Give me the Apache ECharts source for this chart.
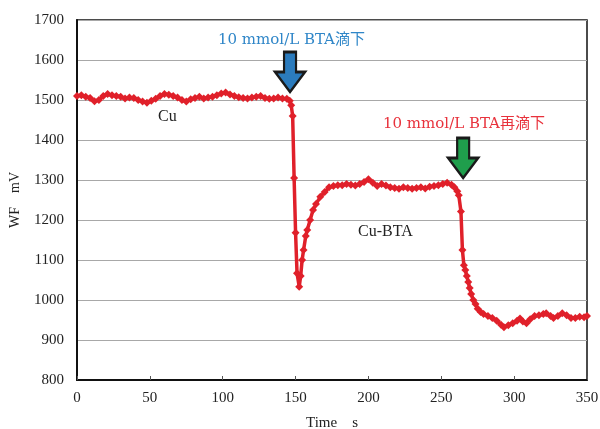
<!DOCTYPE html>
<html>
<head>
<meta charset="utf-8">
<script src="https://cdn.jsdelivr.net/npm/echarts@6/dist/echarts.min.js"></script>
<style>
  html, body { margin: 0; padding: 0; background: #fff; }
  #chart { width: 600px; height: 429px; }
</style>
</head>
<body>
<div id="chart"></div>
<script>
// time (s) and work function (mV)
var timeS = [
    0, 3, 6, 9, 12, 15, 18, 21, 24, 27, 30, 33, 36, 39, 42, 45, 48, 51, 54, 57,
    60, 63, 66, 69, 72, 75, 78, 81, 84, 87, 90, 93, 96, 99, 102, 105, 108, 111, 114, 117,
    120, 123, 126, 129, 132, 135, 138, 141, 144, 146, 147, 148, 149, 150, 151, 152.5,
    153.5, 154.5, 155.5, 157, 158, 160, 162, 164, 167, 170, 173, 176, 179, 182, 185,
    188, 191, 194, 197, 200, 203, 206, 209, 212, 215, 218, 221, 224, 227, 230, 233,
    236, 239, 242, 245, 248, 251, 254, 257, 259, 261, 262, 263.5, 264.5, 265.5, 266.5,
    267.5, 268.5, 269.5, 270.5, 272, 273.5, 275, 277, 279, 282, 285, 288, 291, 293,
    296, 299, 302, 304, 306, 308.5, 311, 314, 317, 320, 322, 325, 327, 330, 333, 336,
    339, 342, 345, 348, 350
];
var wfMv = [
    1510, 1512, 1508, 1505, 1497, 1500, 1510, 1515, 1512, 1510, 1508, 1504, 1506, 1505, 1500, 1496, 1493, 1498, 1503, 1510,
    1515, 1513, 1510, 1506, 1500, 1496, 1502, 1505, 1508, 1504, 1506, 1508, 1512, 1516, 1519, 1514, 1510, 1507, 1505, 1504,
    1506, 1508, 1510, 1505, 1503, 1504, 1506, 1504, 1503, 1498, 1487, 1460, 1305, 1168, 1067, 1033,
    1060, 1100, 1125, 1160, 1175, 1200, 1225, 1240, 1258, 1270, 1282, 1285, 1287, 1287, 1290,
    1288, 1286, 1290, 1295, 1302, 1293, 1285, 1290, 1286, 1282, 1280, 1278, 1282, 1280, 1278, 1280,
    1282, 1279, 1283, 1285, 1287, 1290, 1293, 1288, 1282, 1272, 1262, 1221, 1125, 1087, 1075,
    1060, 1045, 1030, 1015, 1000, 990, 978, 970, 965, 960, 955, 948, 938, 932,
    937, 942, 948, 954, 946, 942, 952, 960, 962, 965, 967, 960, 955, 960, 967, 962,
    955, 955, 958, 957, 960
];
var xTicks = [0, 50, 100, 150, 200, 250, 300, 350];
var yTicks = [800, 900, 1000, 1100, 1200, 1300, 1400, 1500, 1600, 1700];

// arrow tips (time, mV)
var firstDrop = [146.2, 1520];
var secondDrop = [265, 1305];

var points = timeS.map(function (t, i) { return [t, wfMv[i]]; });

var serif = 'Liberation Serif';
var noteFont = '15px "DejaVu Serif", "Noto Sans CJK JP"';
var arrowPath = 'path://M9,0 L21,0 L21,20 L30,20 L15,40 L0,20 L9,20 Z';

var dom = document.getElementById('chart');
var myChart = echarts.init(dom);

var option = {
    animation: false,
    grid: {
        left: 77,
        right: 13,
        top: 20,
        bottom: 49,
        containLabel: false,
        outerBoundsMode: 'none',
        show: true,
        borderColor: '#111',
        borderWidth: 1.5
    },
    xAxis: {
        type: 'value',
        min: xTicks[0],
        max: xTicks[xTicks.length - 1],
        interval: 50,
        name: 'Time    s',
        nameLocation: 'middle',
        nameGap: 36,
        nameTextStyle: { fontFamily: serif, fontSize: 15, color: '#222' },
        axisLine: { lineStyle: { color: '#111', width: 2 } },
        axisTick: { inside: true, length: 4, lineStyle: { color: '#555' } },
        axisLabel: { fontFamily: serif, fontSize: 15, color: '#222', margin: 11 },
        splitLine: { show: false }
    },
    yAxis: {
        type: 'value',
        min: yTicks[0],
        max: yTicks[yTicks.length - 1],
        interval: 100,
        name: 'WF    mV',
        nameLocation: 'middle',
        nameGap: 55,
        nameRotate: 90,
        nameTextStyle: { fontFamily: serif, fontSize: 14, color: '#222' },
        axisLine: { show: true, lineStyle: { color: '#111', width: 2 } },
        axisTick: { show: false },
        axisLabel: {
            fontFamily: serif, fontSize: 15, color: '#222', margin: 13,
            formatter: function (v) { return String(v); }
        },
        splitLine: { lineStyle: { color: '#a8a8a8', width: 1.2 } }
    },
    series: [
        {
            type: 'line',
            data: points,
            symbol: 'diamond',
            symbolSize: 8,
            color: '#e0202a',
            lineStyle: { width: 3.5, color: '#e0202a' },
            markPoint: {
                silent: true,
                symbol: arrowPath,
                symbolSize: [30, 40],
                symbolOffset: [0, '-50%'],
                label: { show: false },
                data: [
                    { coord: firstDrop, itemStyle: { color: '#2b7bbd', borderColor: '#1a1a1a', borderWidth: 2.5 } },
                    { coord: secondDrop, itemStyle: { color: '#1f9e4c', borderColor: '#1a1a1a', borderWidth: 2.5 } }
                ]
            }
        }
    ],
    graphic: [
        { type: 'text', left: 218, top: 33, style: { text: '10 mmol/L BTA滴下', fill: '#2f86c8', font: noteFont } },
        { type: 'text', left: 383, top: 117, style: { text: '10 mmol/L BTA再滴下', fill: '#e8323c', font: noteFont } },
        { type: 'text', left: 158, top: 109, style: { text: 'Cu', fill: '#222', font: '16px "Liberation Serif"' } },
        { type: 'text', left: 358, top: 224, style: { text: 'Cu-BTA', fill: '#222', font: '16px "Liberation Serif"' } }
    ]
};

if (option && typeof option === 'object') {
    myChart.setOption(option);
}

window.addEventListener('resize', myChart.resize);
</script>
</body>
</html>
